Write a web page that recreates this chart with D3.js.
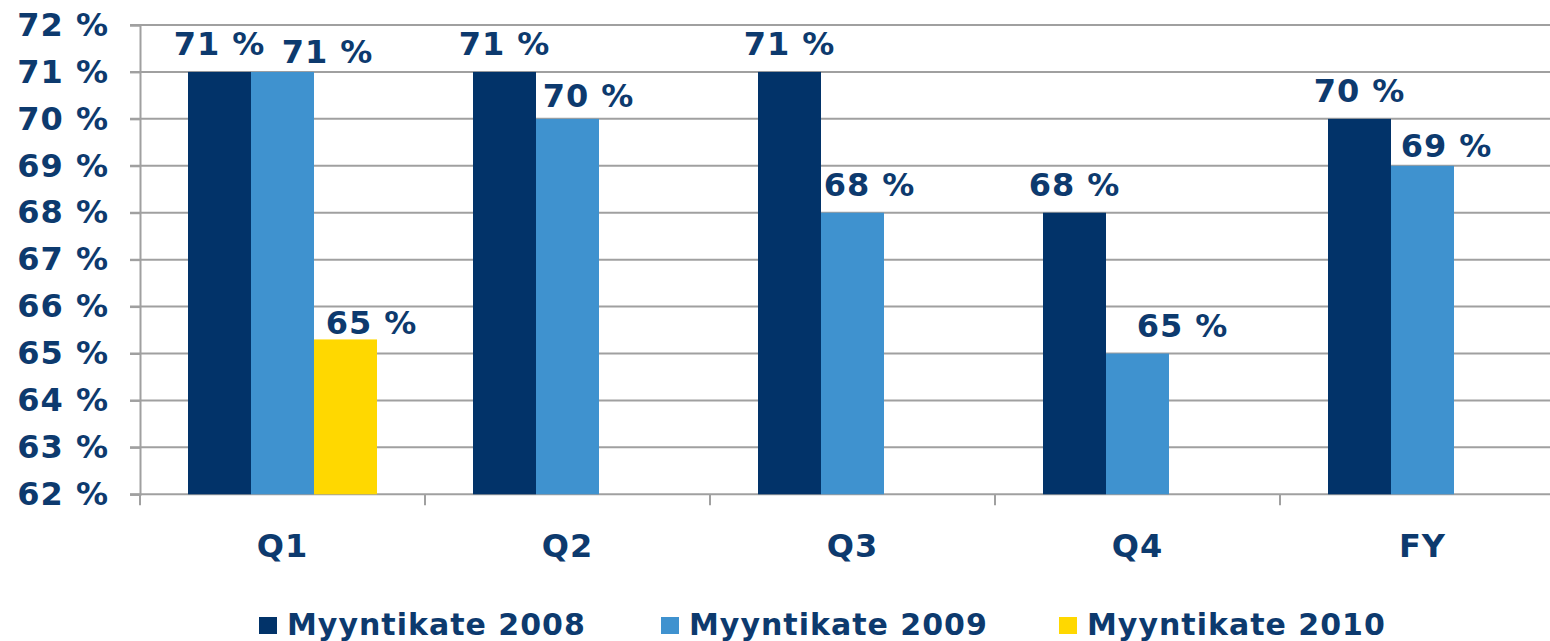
<!DOCTYPE html>
<html>
<head>
<meta charset="utf-8">
<script src="https://cdn.jsdelivr.net/npm/d3@7/dist/d3.min.js"></script>
<style>
  html, body { margin: 0; padding: 0; background: #fff; }
  svg { display: block; }
  text { font-family: "DejaVu Sans", Verdana, sans-serif; font-weight: bold; fill: #0D3A6E; letter-spacing: 1px; }
</style>
</head>
<body>
<svg id="chart" width="1550" height="641"></svg>
<script>
const categories = ["Q1", "Q2", "Q3", "Q4", "FY"];
const seriesNames = ["Myyntikate 2008", "Myyntikate 2009", "Myyntikate 2010"];
const values2008 = [71, 71, 71, 68, 70];
const values2009 = [71, 70, 68, 65, 69];
const values2010 = [65.3, null, null, null, null];
const yTicks = [62, 63, 64, 65, 66, 67, 68, 69, 70, 71, 72];

// label nudges (layout only): [dx, dy] per series per category
const labelNudge2008 = [[0,0],[0,0],[0,0],[0,0],[0,0]];
const labelNudge2009 = [[45,8],[21,5],[17,0],[45,0],[24,8]];
const labelNudge2010 = [[26,12],[0,0],[0,0],[0,0],[0,0]];

const colors = ["#023369", "#3F92CF", "#FFD800"];
const seriesValues = [values2008, values2009, values2010];
const nudges = [labelNudge2008, labelNudge2009, labelNudge2010];

const svg = d3.select("#chart");
const plotLeft = 140, plotRight = 1565, plotTop = 25, plotBottom = 494.3;

const x = d3.scaleBand().domain(categories).range([plotLeft, plotRight]).paddingInner(0).paddingOuter(0);
const groupW = 189;
const xs = d3.scaleBand().domain(d3.range(3)).range([0, groupW]).padding(0);
const y = d3.scaleLinear().domain([62, 72]).range([plotBottom, plotTop]);

const gridColor = "#A0A0A0";

// gridlines
svg.append("g").selectAll("line").data(yTicks).join("line")
  .attr("x1", plotLeft - 10).attr("x2", 1550)
  .attr("y1", d => y(d)).attr("y2", d => y(d))
  .attr("stroke", gridColor).attr("stroke-width", 2);

// y axis
const yAxis = svg.append("g").attr("transform", `translate(${plotLeft},0)`)
  .call(d3.axisLeft(y).tickValues(yTicks).tickSize(10).tickPadding(21).tickFormat(d => d + " %"));
yAxis.select(".domain").attr("stroke", gridColor).attr("stroke-width", 2);
yAxis.selectAll(".tick line").attr("stroke", gridColor).attr("stroke-width", 2);
yAxis.selectAll(".tick text").attr("font-size", 32).attr("fill", "#0D3A6E")
  .attr("font-family", "DejaVu Sans").attr("font-weight", "bold");

// x axis boundary ticks
const boundaries = categories.map(c => x(c)).concat([plotRight]);
svg.append("g").selectAll("line").data(boundaries).join("line")
  .attr("x1", d => d).attr("x2", d => d)
  .attr("y1", plotBottom).attr("y2", plotBottom + 11)
  .attr("stroke", gridColor).attr("stroke-width", 2);

// bars
const bars = [];
seriesValues.forEach((vals, si) => {
  vals.forEach((v, ci) => {
    if (v == null) return;
    bars.push({si, ci, v, cat: categories[ci]});
  });
});

const gx = c => x(c) + (x.bandwidth() - groupW) / 2;

svg.append("g").selectAll("rect").data(bars).join("rect")
  .attr("x", d => gx(d.cat) + xs(d.si))
  .attr("width", xs.bandwidth())
  .attr("y", d => y(d.v))
  .attr("height", d => plotBottom - y(d.v))
  .attr("fill", d => colors[d.si]);

// data labels
svg.append("g").selectAll("text").data(bars).join("text")
  .attr("x", d => gx(d.cat) + xs(d.si) + xs.bandwidth() / 2 + nudges[d.si][d.ci][0])
  .attr("y", d => y(d.v) - 17 + nudges[d.si][d.ci][1])
  .attr("text-anchor", "middle")
  .attr("font-size", 32)
  .text(d => Math.round(d.v) + " %");

// category labels
svg.append("g").selectAll("text").data(categories).join("text")
  .attr("x", d => x(d) + x.bandwidth() / 2)
  .attr("y", 557)
  .attr("text-anchor", "middle")
  .attr("font-size", 32)
  .text(d => d);

// legend
const legendX = [259, 661, 1059];
const lg = svg.append("g").selectAll("g").data(seriesNames).join("g")
  .attr("transform", (d, i) => `translate(${legendX[i]},0)`);
lg.append("rect").attr("x", 0).attr("y", 617).attr("width", 18).attr("height", 17)
  .attr("fill", (d, i) => colors[i]);
lg.append("text").attr("x", 28).attr("y", 635).attr("font-size", 30).text(d => d);
</script>
</body>
</html>
